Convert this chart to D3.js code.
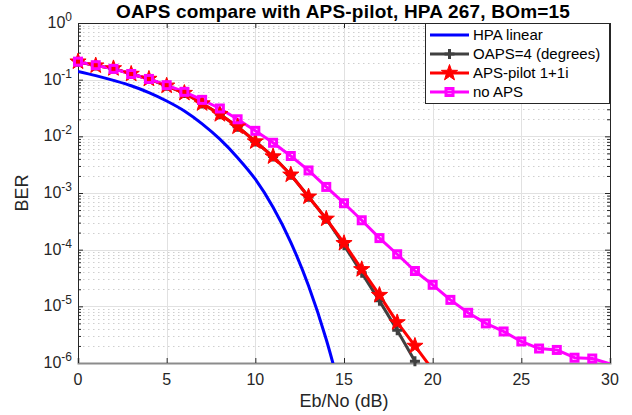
<!DOCTYPE html>
<html>
<head>
<meta charset="utf-8">
<script src="https://cdn.jsdelivr.net/npm/d3@7"></script>
<style>
  body { margin: 0; background: #fff; }
  text { font-family: "Liberation Sans", Arial, sans-serif; }
</style>
</head>
<body>
<div id="chart"></div>
<script>
// Eb/No axis (dB)
var ebno = d3.range(0, 31); // 0..30
var xTicks = [0, 5, 10, 15, 20, 25, 30];
var yTickExps = [0, -1, -2, -3, -4, -5, -6];

// series values (BER per integer dB)
var hpaLinear = [0.14, 0.118, 0.097, 0.078, 0.059, 0.042, 0.028, 0.0166, 0.0089, 0.0042,
  0.00175, 5.6e-4, 1.35e-4, 2.3e-5, 2.6e-6, 1.8e-7];
var oaps4 = [0.208, 0.177, 0.158, 0.126, 0.103, 0.078, 0.058, 0.038, 0.0245, 0.0148,
  0.0081, 0.0044, 0.0021, 8.6e-4, 3.5e-4, 1.2e-4, 3.9e-5, 1.25e-5, 3.8e-6, 1.07e-6, 2.5e-7];
var apsPilot = [0.208, 0.177, 0.158, 0.126, 0.103, 0.078, 0.058, 0.038, 0.0245, 0.0148,
  0.0081, 0.0044, 0.0021, 8.6e-4, 3.5e-4, 1.3e-4, 4.5e-5, 1.58e-5, 5.2e-6, 2.0e-6, 7.6e-7];
var noAps = [0.208, 0.18, 0.155, 0.126, 0.103, 0.080, 0.061, 0.044, 0.031, 0.020,
  0.0125, 0.0077, 0.0045, 0.0025, 0.00128, 6.6e-4, 3.3e-4, 1.6e-4, 8.3e-5, 4.2e-5,
  2.4e-5, 1.3e-5, 7.7e-6, 5.0e-6, 3.6e-6, 2.4e-6, 1.8e-6, 1.7e-6, 1.24e-6, 1.2e-6, 9.7e-7];

var series = [
  { name: 'HPA linear', values: hpaLinear, color: '#0000ff', marker: 'none', smooth: true },
  { name: 'OAPS=4 (degrees)', values: oaps4, color: '#404040', marker: 'plus' },
  { name: 'APS-pilot 1+1i', values: apsPilot, color: '#ff0000', marker: 'star' },
  { name: 'no APS', values: noAps, color: '#ff00ff', marker: 'square' }
];

// chart dimensions
var width = 632;
var height = 415;
var margin = { left: 78, right: 22, top: 23, bottom: 52 };
var plotW = width - margin.left - margin.right;
var plotH = height - margin.top - margin.bottom;

var x = d3.scaleLinear().domain([0, 30]).range([margin.left, margin.left + plotW]);
var y = d3.scaleLog().domain([1e-6, 1]).range([margin.top + plotH, margin.top]);

var svg = d3.select('#chart')
  .append('svg')
  .attr('width', width)
  .attr('height', height)
  .style('display', 'block');

svg.append('rect').attr('width', width).attr('height', height).attr('fill', '#fff');

svg.append('clipPath').attr('id', 'clip')
  .append('rect')
  .attr('x', margin.left).attr('y', margin.top)
  .attr('width', plotW).attr('height', plotH);

// minor grid (dotted, log minor levels only)
var minorLevels = [];
yTickExps.forEach(function(e) {
  if (e === 0) return;
  for (var k = 2; k <= 9; k++) minorLevels.push(k * Math.pow(10, e));
});

svg.append('g').selectAll('line')
  .data(minorLevels)
  .enter().append('line')
  .attr('x1', margin.left).attr('x2', margin.left + plotW)
  .attr('y1', function(d) { return Math.round(y(d)) + 0.5; })
  .attr('y2', function(d) { return Math.round(y(d)) + 0.5; })
  .attr('stroke', '#cfcfcf')
  .attr('stroke-width', 1)
  .attr('stroke-dasharray', '1.5,3.5');

// major grid
var grid = svg.append('g').attr('stroke', '#e1e1e1').attr('stroke-width', 1);
grid.selectAll('.gx')
  .data(xTicks.slice(1, -1))
  .enter().append('line')
  .attr('x1', function(d) { return Math.round(x(d)) + 0.5; })
  .attr('x2', function(d) { return Math.round(x(d)) + 0.5; })
  .attr('y1', margin.top).attr('y2', margin.top + plotH);
grid.selectAll('.gy')
  .data(yTickExps.slice(1, -1))
  .enter().append('line')
  .attr('x1', margin.left).attr('x2', margin.left + plotW)
  .attr('y1', function(d) { return Math.round(y(Math.pow(10, d))) + 0.5; })
  .attr('y2', function(d) { return Math.round(y(Math.pow(10, d))) + 0.5; });

// axes: left/right with ticks inward
var yMajor = yTickExps.map(function(e) { return Math.pow(10, e); });
var axisColor = '#262626';

var leftAxis = svg.append('g')
  .attr('transform', 'translate(' + margin.left + ',0)')
  .call(d3.axisRight(y).tickValues(yMajor).tickSize(5).tickFormat(''));
var leftMinor = svg.append('g')
  .attr('transform', 'translate(' + margin.left + ',0)')
  .call(d3.axisRight(y).tickValues(minorLevels).tickSize(3).tickFormat(''));
var rightAxis = svg.append('g')
  .attr('transform', 'translate(' + (margin.left + plotW) + ',0)')
  .call(d3.axisLeft(y).tickValues(yMajor).tickSize(5).tickFormat(''));
var rightMinor = svg.append('g')
  .attr('transform', 'translate(' + (margin.left + plotW) + ',0)')
  .call(d3.axisLeft(y).tickValues(minorLevels).tickSize(3).tickFormat(''));
var bottomAxis = svg.append('g')
  .attr('transform', 'translate(0,' + (margin.top + plotH) + ')')
  .call(d3.axisTop(x).tickValues(xTicks).tickSize(5).tickFormat(''));
var topAxis = svg.append('g')
  .attr('transform', 'translate(0,' + margin.top + ')')
  .call(d3.axisBottom(x).tickValues(xTicks).tickSize(5).tickFormat(''));

[leftAxis, leftMinor, rightAxis, rightMinor, bottomAxis, topAxis].forEach(function(g) {
  g.selectAll('line').attr('stroke', axisColor);
  g.select('.domain').attr('stroke', axisColor);
});
leftMinor.select('.domain').remove();
rightMinor.select('.domain').remove();
bottomAxis.select('.domain').attr('stroke', '#8c8c8c').attr('stroke-width', 2);

// y tick labels as 10^n
var yLabels = svg.append('g').selectAll('text')
  .data(yTickExps)
  .enter().append('text')
  .attr('x', margin.left - 6)
  .attr('y', function(d) { return y(Math.pow(10, d)) + 5; })
  .attr('text-anchor', 'end')
  .attr('fill', axisColor)
  .style('font-size', '16px');
yLabels.append('tspan').text('10');
yLabels.append('tspan')
  .attr('dy', -7)
  .style('font-size', '12px')
  .text(function(d) { return d === 0 ? '0' : '-' + Math.abs(d); });

// x tick labels
svg.append('g').selectAll('text')
  .data(xTicks)
  .enter().append('text')
  .attr('x', function(d) { return x(d); })
  .attr('y', margin.top + plotH + 22)
  .attr('text-anchor', 'middle')
  .attr('fill', axisColor)
  .style('font-size', '16px')
  .text(function(d) { return d; });

// axis labels + title
svg.append('text')
  .attr('x', x(15)).attr('y', 407)
  .attr('text-anchor', 'middle')
  .attr('fill', axisColor)
  .style('font-size', '18px')
  .text('Eb/No (dB)');

svg.append('text')
  .attr('transform', 'translate(28,' + (margin.top + plotH / 2) + ') rotate(-90)')
  .attr('text-anchor', 'middle')
  .attr('fill', axisColor)
  .style('font-size', '18px')
  .text('BER');

svg.append('text')
  .attr('x', x(15) - 1).attr('y', 18)
  .attr('text-anchor', 'middle')
  .attr('fill', '#000')
  .style('font-size', '19px')
  .style('font-weight', 'bold')
  .style('letter-spacing', '0.2px')
  .text('OAPS compare with APS-pilot, HPA 267, BOm=15');

// marker shapes
function starPath(R) {
  var r = R * 0.4, pts = [];
  for (var i = 0; i < 10; i++) {
    var a = -Math.PI / 2 + i * Math.PI / 5;
    var rr = i % 2 === 0 ? R : r;
    pts.push([rr * Math.cos(a), rr * Math.sin(a)]);
  }
  return 'M' + pts.join('L') + 'Z';
}

function drawMarker(g, type, color) {
  if (type === 'star') {
    g.append('path').attr('d', starPath(8.5))
      .attr('fill', color).attr('stroke', color).attr('stroke-width', 1);
  } else if (type === 'square') {
    g.append('rect').attr('x', -3.5).attr('y', -3.5).attr('width', 7).attr('height', 7)
      .attr('fill', 'none').attr('stroke', color).attr('stroke-width', 3);
  } else if (type === 'plus') {
    g.append('path').attr('d', 'M-5,0H5M0,-5V5')
      .attr('fill', 'none').attr('stroke', color).attr('stroke-width', 3);
  }
}

// lines
var lines = svg.append('g').attr('clip-path', 'url(#clip)');
var marks = svg.append('g');

series.forEach(function(s) {
  var pts = s.values.map(function(v, i) { return [ebno[i], v]; });
  var line = d3.line()
    .x(function(d) { return x(d[0]); })
    .y(function(d) { return y(d[1]); });
  if (s.smooth) line.curve(d3.curveMonotoneX);

  lines.append('path')
    .datum(pts)
    .attr('d', line)
    .attr('fill', 'none')
    .attr('stroke', s.color)
    .attr('stroke-width', 3)
    .attr('stroke-linejoin', 'round');

  if (s.marker === 'none') return;
  // markers only for points inside the axes limits
  pts.filter(function(d) { return d[1] >= 1e-6 && d[1] <= 1; })
    .forEach(function(d) {
      var g = marks.append('g').attr('transform', 'translate(' + x(d[0]) + ',' + y(d[1]) + ')');
      drawMarker(g, s.marker, s.color);
    });
});

// legend
var lgX = 425, lgY = 23, lgW = margin.left + plotW - lgX, lgH = 80;
var legend = svg.append('g');
legend.append('rect')
  .attr('x', lgX + 0.5).attr('y', lgY + 0.5)
  .attr('width', lgW - 1).attr('height', lgH)
  .attr('fill', '#fff')
  .attr('stroke', '#262626')
  .attr('stroke-width', 1);

var rows = legend.selectAll('.row')
  .data(series)
  .enter().append('g')
  .attr('class', 'row')
  .attr('transform', function(d, i) { return 'translate(' + lgX + ',' + (lgY + 12 + i * 19) + ')'; });

rows.append('line')
  .attr('x1', 5).attr('x2', 44)
  .attr('stroke', function(d) { return d.color; })
  .attr('stroke-width', 3);
rows.each(function(d) {
  if (d.marker === 'none') return;
  var g = d3.select(this).append('g').attr('transform', 'translate(24.5,0)');
  drawMarker(g, d.marker, d.color);
});
rows.append('text')
  .attr('x', 48)
  .attr('y', 5)
  .attr('fill', '#000')
  .style('font-size', '15px')
  .text(function(d) { return d.name; });
</script>
</body>
</html>
